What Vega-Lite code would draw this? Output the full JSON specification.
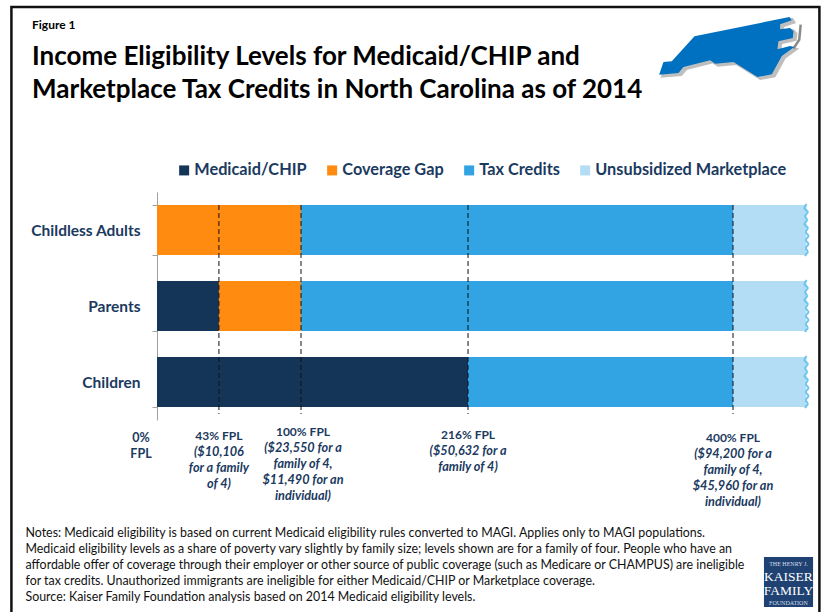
{
"$schema":"https://vega.github.io/schema/vega-lite/v6.json",
"width":651,"height":228,
"autosize":{"type":"none"},
"padding":{"left":157,"top":192,"right":14,"bottom":192},
"background":"white",
"config":{"view":{"stroke":null},"font":"Lato"},
"data":{"values":[{}]},
"title":{"text":"Figure 1","subtitle":["Income Eligibility Levels for Medicaid/CHIP and","Marketplace Tax Credits in North Carolina as of 2014"],"anchor":"start","frame":"group","dx":-125,"offset":-98,"font":"Lato","fontSize":12,"fontWeight":"bold","color":"#000000","subtitleFont":"Lato","subtitleFontSize":26,"subtitleFontWeight":"bold","subtitleColor":"#000000","subtitleLineHeight":33,"subtitlePadding":12},
"datasets":{
"bars":[
{"group":"Childless Adults","category":"Coverage Gap","start":0,"end":100},
{"group":"Childless Adults","category":"Tax Credits","start":100,"end":400},
{"group":"Childless Adults","category":"Unsubsidized Marketplace","start":400,"end":451},
{"group":"Parents","category":"Medicaid/CHIP","start":0,"end":43},
{"group":"Parents","category":"Coverage Gap","start":43,"end":100},
{"group":"Parents","category":"Tax Credits","start":100,"end":400},
{"group":"Parents","category":"Unsubsidized Marketplace","start":400,"end":451},
{"group":"Children","category":"Medicaid/CHIP","start":0,"end":216},
{"group":"Children","category":"Tax Credits","start":216,"end":400},
{"group":"Children","category":"Unsubsidized Marketplace","start":400,"end":451}
],
"fpl":[
{"fpl":0,"head":"0%\nFPL","detail":""},
{"fpl":43,"head":"43% FPL","detail":"($10,106\nfor a family\nof 4)"},
{"fpl":100,"head":"100% FPL","detail":"($23,550 for a\nfamily of 4,\n$11,490 for an\nindividual)"},
{"fpl":216,"head":"216% FPL","detail":"($50,632 for a\nfamily of 4)"},
{"fpl":400,"head":"400% FPL","detail":"($94,200 for a\nfamily of 4,\n$45,960 for an\nindividual)"}
],
"wave":[
{"seg":"a","w":451,"v":12},{"seg":"a","w":449,"v":16},{"seg":"a","w":452.5,"v":20},{"seg":"a","w":449.5,"v":24},{"seg":"a","w":452,"v":28},{"seg":"a","w":449,"v":32},{"seg":"a","w":452.5,"v":36},{"seg":"a","w":450,"v":40},{"seg":"a","w":453,"v":44},{"seg":"a","w":450,"v":48},{"seg":"a","w":453,"v":52},{"seg":"a","w":450,"v":56},{"seg":"a","w":452.5,"v":60},{"seg":"a","w":450,"v":64},
{"seg":"b","w":451,"v":88},{"seg":"b","w":449,"v":92},{"seg":"b","w":452.5,"v":96},{"seg":"b","w":449.5,"v":100},{"seg":"b","w":452,"v":104},{"seg":"b","w":449,"v":108},{"seg":"b","w":452.5,"v":112},{"seg":"b","w":450,"v":116},{"seg":"b","w":453,"v":120},{"seg":"b","w":450,"v":124},{"seg":"b","w":453,"v":128},{"seg":"b","w":450,"v":132},{"seg":"b","w":452.5,"v":136},{"seg":"b","w":450,"v":140},
{"seg":"c","w":451,"v":164},{"seg":"c","w":449,"v":168},{"seg":"c","w":452.5,"v":172},{"seg":"c","w":449.5,"v":176},{"seg":"c","w":452,"v":180},{"seg":"c","w":449,"v":184},{"seg":"c","w":452.5,"v":188},{"seg":"c","w":450,"v":192},{"seg":"c","w":453,"v":196},{"seg":"c","w":450,"v":200},{"seg":"c","w":453,"v":204},{"seg":"c","w":450,"v":208},{"seg":"c","w":452.5,"v":212},{"seg":"c","w":450,"v":216}
]
},
"resolve":{"scale":{"y":"independent"}},
"layer":[
{"mark":{"type":"rect","fill":"transparent","stroke":"#111111","strokeWidth":2.5},
 "encoding":{"x":{"datum":-101.1,"type":"quantitative","scale":{"domain":[0,452.08],"nice":false}},"x2":{"datum":460},"y":{"datum":-185,"type":"quantitative","axis":null,"scale":{"domain":[228,0],"nice":false}},"y2":{"datum":426}}},
{"data":{"name":"bars"},"mark":{"type":"bar"},
 "encoding":{
 "x":{"field":"start","type":"quantitative","scale":{"domain":[0,452.08],"nice":false},
  "axis":{"ticks":false,"labels":false,"domain":false,"grid":false,
   "title":["Notes: Medicaid eligibility is based on current Medicaid eligibility rules converted to MAGI. Applies only to MAGI populations.","Medicaid eligibility levels as a share of poverty vary slightly by family size; levels shown are for a family of four. People who have an","affordable offer of coverage through their employer or other source of public coverage (such as Medicare or CHAMPUS) are ineligible","for tax credits. Unauthorized immigrants are ineligible for either Medicaid/CHIP or Marketplace coverage.","Source: Kaiser Family Foundation analysis based on 2014 Medicaid eligibility levels."],
   "titleX":-132,"titleY":116,"titleAlign":"left","titleAnchor":"start","titleBaseline":"alphabetic","titleFont":"Lato","titleFontSize":12.4,"titleFontWeight":"normal","titleColor":"#111111","titleLineHeight":16}},
 "x2":{"field":"end"},
 "y":{"field":"group","type":"nominal","sort":["Childless Adults","Parents","Children"],
  "scale":{"domain":["Childless Adults","Parents","Children"],"paddingInner":0.342,"paddingOuter":0.171},
  "axis":{"title":null,"tickBand":"extent","tickSize":5,"tickColor":"#A0A0A0","domainColor":"#A0A0A0","grid":false,"labelFont":"Lato","labelFontWeight":"bold","labelFontSize":15.5,"labelColor":"#1B3A60","labelPadding":12,"labelLimit":200}},
 "color":{"field":"category","type":"nominal","scale":{"domain":["Medicaid/CHIP","Coverage Gap","Tax Credits","Unsubsidized Marketplace"],"range":["#143558","#FF8B10","#32A3E3","#B2DDF4"]},
  "legend":{"title":null,"orient":"none","legendX":19,"legendY":-30,"direction":"horizontal","columns":4,"symbolType":"square","symbolSize":100,"symbolStrokeWidth":0,"labelFont":"Lato","labelFontWeight":"bold","labelFontSize":16.3,"labelColor":"#1B3A60","labelLimit":300,"labelOffset":2,"columnPadding":17}}
 }},
{"data":{"name":"wave"},"mark":{"type":"line","interpolate":"monotone","stroke":"#6CC5EE","strokeWidth":2},
 "encoding":{"x":{"field":"w","type":"quantitative","scale":{"domain":[0,452.08],"nice":false}},"y":{"field":"v","type":"quantitative","axis":null,"scale":{"domain":[228,0],"nice":false}},"detail":{"field":"seg"},"order":{"field":"v","type":"quantitative"}}},
{"data":{"name":"fpl"},"transform":[{"filter":"datum.fpl>0"}],"mark":{"type":"rule","stroke":"#111111","strokeWidth":1,"strokeDash":[5,3]},
 "encoding":{"x":{"field":"fpl","type":"quantitative","scale":{"domain":[0,452.08],"nice":false}},"y":{"datum":13,"type":"quantitative","axis":null,"scale":{"domain":[228,0],"nice":false}},"y2":{"datum":222}}},

{"data":{"name":"fpl"},"transform":[{"filter":"datum.fpl==0"}],"mark":{"type":"text","font":"Lato","fontSize":12.5,"fontWeight":"bold","color":"#1B3A60","align":"center","baseline":"alphabetic","lineBreak":"\n","lineHeight":16,"dx":-16},
 "encoding":{"x":{"field":"fpl","type":"quantitative","scale":{"domain":[0,452.08],"nice":false}},"y":{"datum":250,"type":"quantitative","axis":null,"scale":{"domain":[228,0],"nice":false}},"text":{"field":"head"}}},

{"data":{"name":"fpl"},"transform":[{"filter":"datum.fpl==43"}],"mark":{"type":"text","font":"Lato","fontSize":12,"fontWeight":"bold","color":"#1B3A60","align":"center","baseline":"alphabetic"},
 "encoding":{"x":{"field":"fpl","type":"quantitative","scale":{"domain":[0,452.08],"nice":false}},"y":{"datum":248,"type":"quantitative","axis":null,"scale":{"domain":[228,0],"nice":false}},"text":{"field":"head"}}},
{"data":{"name":"fpl"},"transform":[{"filter":"datum.fpl==43"}],"mark":{"type":"text","font":"Lato","fontSize":12.7,"fontWeight":"bold","fontStyle":"italic","color":"#1B3A60","align":"center","baseline":"alphabetic","lineBreak":"\n","lineHeight":16},
 "encoding":{"x":{"field":"fpl","type":"quantitative","scale":{"domain":[0,452.08],"nice":false}},"y":{"datum":264,"type":"quantitative","axis":null,"scale":{"domain":[228,0],"nice":false}},"text":{"field":"detail"}}},

{"data":{"name":"fpl"},"transform":[{"filter":"datum.fpl==100"}],"mark":{"type":"text","font":"Lato","fontSize":12,"fontWeight":"bold","color":"#1B3A60","align":"center","baseline":"alphabetic","dx":2},
 "encoding":{"x":{"field":"fpl","type":"quantitative","scale":{"domain":[0,452.08],"nice":false}},"y":{"datum":244,"type":"quantitative","axis":null,"scale":{"domain":[228,0],"nice":false}},"text":{"field":"head"}}},
{"data":{"name":"fpl"},"transform":[{"filter":"datum.fpl==100"}],"mark":{"type":"text","font":"Lato","fontSize":12.7,"fontWeight":"bold","fontStyle":"italic","color":"#1B3A60","align":"center","baseline":"alphabetic","lineBreak":"\n","lineHeight":16,"dx":2},
 "encoding":{"x":{"field":"fpl","type":"quantitative","scale":{"domain":[0,452.08],"nice":false}},"y":{"datum":260,"type":"quantitative","axis":null,"scale":{"domain":[228,0],"nice":false}},"text":{"field":"detail"}}},

{"data":{"name":"fpl"},"transform":[{"filter":"datum.fpl==216"}],"mark":{"type":"text","font":"Lato","fontSize":12,"fontWeight":"bold","color":"#1B3A60","align":"center","baseline":"alphabetic"},
 "encoding":{"x":{"field":"fpl","type":"quantitative","scale":{"domain":[0,452.08],"nice":false}},"y":{"datum":247,"type":"quantitative","axis":null,"scale":{"domain":[228,0],"nice":false}},"text":{"field":"head"}}},
{"data":{"name":"fpl"},"transform":[{"filter":"datum.fpl==216"}],"mark":{"type":"text","font":"Lato","fontSize":12.7,"fontWeight":"bold","fontStyle":"italic","color":"#1B3A60","align":"center","baseline":"alphabetic","lineBreak":"\n","lineHeight":16},
 "encoding":{"x":{"field":"fpl","type":"quantitative","scale":{"domain":[0,452.08],"nice":false}},"y":{"datum":263,"type":"quantitative","axis":null,"scale":{"domain":[228,0],"nice":false}},"text":{"field":"detail"}}},

{"data":{"name":"fpl"},"transform":[{"filter":"datum.fpl==400"}],"mark":{"type":"text","font":"Lato","fontSize":12,"fontWeight":"bold","color":"#1B3A60","align":"center","baseline":"alphabetic"},
 "encoding":{"x":{"field":"fpl","type":"quantitative","scale":{"domain":[0,452.08],"nice":false}},"y":{"datum":250,"type":"quantitative","axis":null,"scale":{"domain":[228,0],"nice":false}},"text":{"field":"head"}}},
{"data":{"name":"fpl"},"transform":[{"filter":"datum.fpl==400"}],"mark":{"type":"text","font":"Lato","fontSize":12.7,"fontWeight":"bold","fontStyle":"italic","color":"#1B3A60","align":"center","baseline":"alphabetic","lineBreak":"\n","lineHeight":16},
 "encoding":{"x":{"field":"fpl","type":"quantitative","scale":{"domain":[0,452.08],"nice":false}},"y":{"datum":266,"type":"quantitative","axis":null,"scale":{"domain":[228,0],"nice":false}},"text":{"field":"detail"}}},

{"mark":{"type":"point","filled":true,"opacity":0.55,"fill":"#8A8A8A","stroke":"#8A8A8A","strokeWidth":2,"size":20736,"shape":"M-.986 .384L-.926 .208L-.81 .199L-.495 -.148L.824 -.417L.856 -.37L.694 -.315L.694 -.245L.833 -.264L.88 -.218L.87 -.125L.671 -.079L.657 .032L.833 -.014L.889 0L.718 .125L.579 .38L.38 .417L.046 .208L-.208 .231L-.278 .185L-.648 .278L-.718 .361Z"},
 "encoding":{"x":{"datum":400,"type":"quantitative","scale":{"domain":[0,452.08],"nice":false}},"y":{"datum":-143,"type":"quantitative","axis":null,"scale":{"domain":[228,0],"nice":false}}}},
{"mark":{"type":"point","filled":false,"opacity":1,"stroke":"#8A8A8A","strokeWidth":2.5,"size":20736,"shape":"M.98 -.31L.96 -.1L.88 .02"},
 "encoding":{"x":{"datum":398,"type":"quantitative","scale":{"domain":[0,452.08],"nice":false}},"y":{"datum":-145,"type":"quantitative","axis":null,"scale":{"domain":[228,0],"nice":false}}}},
{"mark":{"type":"point","filled":true,"opacity":1,"fill":"#0070C0","strokeWidth":0,"size":20736,"shape":"M-.986 .384L-.926 .208L-.81 .199L-.495 -.148L.824 -.417L.856 -.37L.694 -.315L.694 -.245L.833 -.264L.88 -.218L.87 -.125L.671 -.079L.657 .032L.833 -.014L.889 0L.718 .125L.579 .38L.38 .417L.046 .208L-.208 .231L-.278 .185L-.648 .278L-.718 .361Z"},
 "encoding":{"x":{"datum":398,"type":"quantitative","scale":{"domain":[0,452.08],"nice":false}},"y":{"datum":-145,"type":"quantitative","axis":null,"scale":{"domain":[228,0],"nice":false}}}},

{"mark":{"type":"rect","fill":"#1F4272"},
 "encoding":{"x":{"datum":421.5,"type":"quantitative","scale":{"domain":[0,452.08],"nice":false}},"x2":{"datum":455.6},"y":{"datum":365,"type":"quantitative","axis":null,"scale":{"domain":[228,0],"nice":false}},"y2":{"datum":415}}},
{"mark":{"type":"text","font":"Liberation Serif","fontSize":6,"color":"#D5DDE8","align":"center","baseline":"alphabetic","text":"THE HENRY J."},
 "encoding":{"x":{"datum":438.5,"type":"quantitative","scale":{"domain":[0,452.08],"nice":false}},"y":{"datum":373.5,"type":"quantitative","axis":null,"scale":{"domain":[228,0],"nice":false}}}},
{"mark":{"type":"text","font":"Liberation Serif","fontSize":13.5,"color":"#FFFFFF","align":"center","baseline":"alphabetic","lineBreak":"\n","lineHeight":14,"text":"KAISER\nFAMILY"},
 "encoding":{"x":{"datum":438.5,"type":"quantitative","scale":{"domain":[0,452.08],"nice":false}},"y":{"datum":389,"type":"quantitative","axis":null,"scale":{"domain":[228,0],"nice":false}}}},
{"mark":{"type":"text","font":"Liberation Serif","fontSize":6,"color":"#D5DDE8","align":"center","baseline":"alphabetic","text":"FOUNDATION"},
 "encoding":{"x":{"datum":438.5,"type":"quantitative","scale":{"domain":[0,452.08],"nice":false}},"y":{"datum":413,"type":"quantitative","axis":null,"scale":{"domain":[228,0],"nice":false}}}}
]
}
